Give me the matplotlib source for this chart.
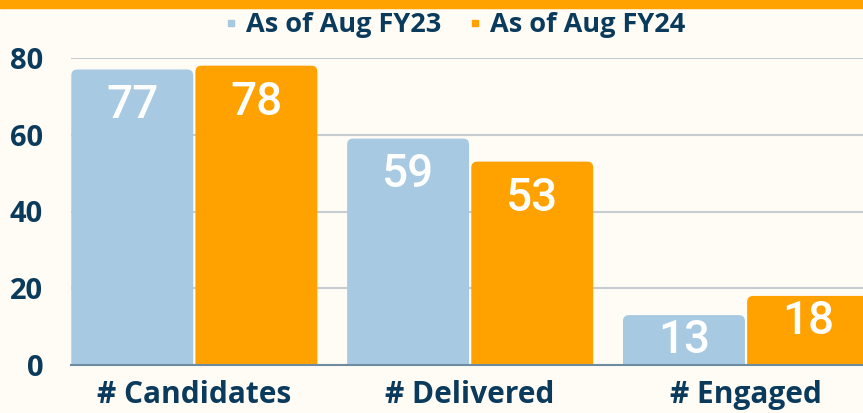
import matplotlib.pyplot as plt
from matplotlib.patches import FancyBboxPatch
from matplotlib.lines import Line2D
import numpy as np

categories = ['# Candidates', '# Delivered', '# Engaged']
fy23 = [77, 59, 13]
fy24 = [78, 53, 18]
series_names = ['As of Aug FY23', 'As of Aug FY24']

BLUE = '#A7C9E2'
ORANGE = '#FFA200'
NAVY = '#0B3B5C'
BG = '#FFFBF5'
GRID = '#C5CDD2'
FONT = 'Open Sans'

fig = plt.figure(figsize=(8.63, 4.13), dpi=100, facecolor=BG)
ax = fig.add_axes([71 / 863, 1 - 365 / 413, 1 - 71 / 863, (365 - 58) / 413])
ax.set_facecolor(BG)

x = np.arange(len(categories))
width = 0.442
offset = 0.225

# rounding radius in pixels -> data units
px_x = 276.0
px_y = 307.0 / 80
rad = 6.0
aspect = (rad / px_y) / (rad / px_x)

for vals, sign, color in [(fy23, -1, BLUE), (fy24, 1, ORANGE)]:
    for xi, v in zip(x, vals):
        left = xi + sign * offset - width / 2
        box = FancyBboxPatch((left, -5), width, v + 5,
                             boxstyle='round,pad=0,rounding_size=%f' % (rad / px_x),
                             mutation_aspect=aspect, facecolor=color,
                             edgecolor='none', zorder=3)
        ax.add_patch(box)
        # short bars get their label closer to the top
        dy = -10 if v >= 20 else -2
        ax.annotate(str(v), (xi + sign * offset, v), xytext=(0, dy),
                    textcoords='offset points', ha='center', va='top',
                    color='white', fontsize=33, family='Roboto',
                    fontweight='medium', zorder=4)

ax.set_xlim(-0.447, 2.424)
ax.set_ylim(0, 80)
ax.set_yticks([0, 20, 40, 60, 80])
ax.set_xticks(x)
ax.set_xticklabels(categories)
ax.yaxis.grid(True, color=GRID, linewidth=1.5, zorder=0)
ax.set_axisbelow(True)
for s in ['top', 'right', 'left']:
    ax.spines[s].set_visible(False)
ax.spines['bottom'].set_color('#6E8CA0')
ax.spines['bottom'].set_linewidth(1.5)
ax.spines['bottom'].set_zorder(5)
ax.tick_params(axis='both', length=0, colors=NAVY)
ax.tick_params(axis='y', pad=20)
ax.tick_params(axis='x', pad=11)
for lab in ax.get_yticklabels():
    lab.set_fontfamily(FONT)
    lab.set_fontweight('bold')
    lab.set_fontsize(21)
for lab in ax.get_xticklabels():
    lab.set_fontfamily(FONT)
    lab.set_fontweight('bold')
    lab.set_fontsize(21.5)

# orange stripe on top
fig.patches.append(plt.Rectangle((0, 1 - 8 / 413), 1, 8 / 413,
                                 transform=fig.transFigure, color=ORANGE))

handles = [Line2D([], [], marker='s', linestyle='none', color=c, markersize=5)
           for c in (BLUE, ORANGE)]
fig.legend(handles, series_names, loc='center', bbox_to_anchor=(455 / 863, 1 - 25 / 413),
           ncol=2, frameon=False, handlelength=0.5, handletextpad=0.3,
           columnspacing=1.0, prop={'family': FONT, 'weight': 'bold', 'size': 19.5},
           labelcolor=NAVY)

fig.savefig('out.png', dpi=100, facecolor=BG)
